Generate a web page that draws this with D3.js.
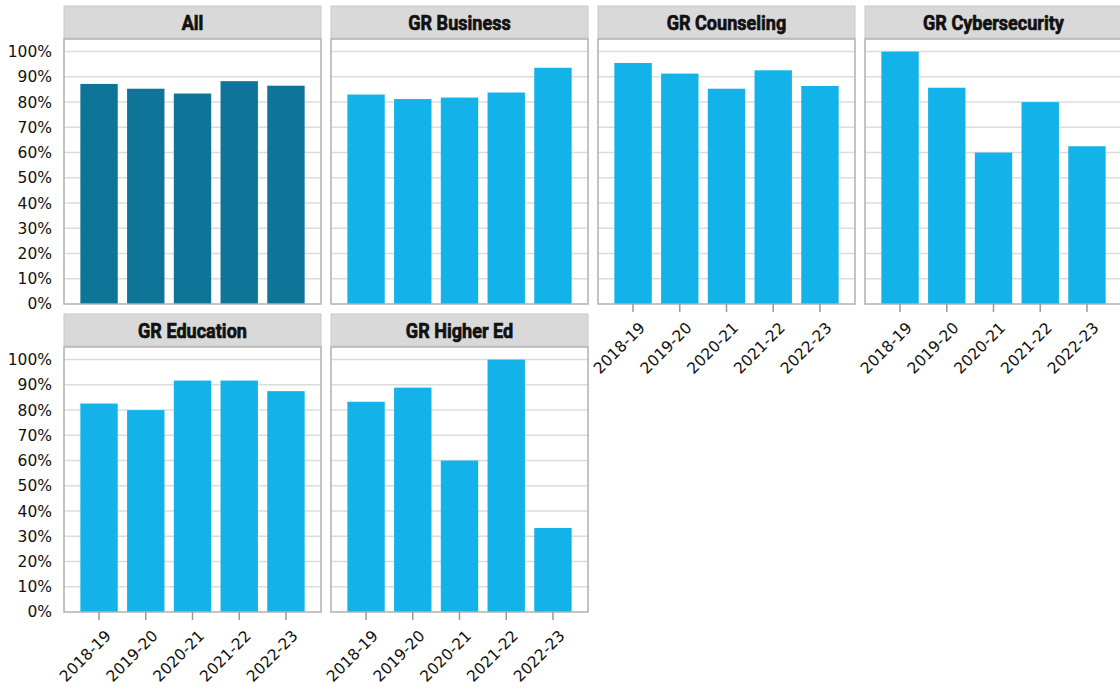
<!DOCTYPE html>
<html>
<head>
<meta charset="utf-8">
<script src="https://cdn.jsdelivr.net/npm/d3@7"></script>
<style>
  body { margin: 0; background: #fff; }
  svg text { fill: #111; }
</style>
</head>
<body>
<div class="chart_box"></div>
<script>
// data
var years = ["2018-19", "2019-20", "2020-21", "2021-22", "2022-23"];
var panels = ["All", "GR Business", "GR Counseling", "GR Cybersecurity", "GR Education", "GR Higher Ed"];
var allRates = [0.872, 0.853, 0.834, 0.883, 0.865];
var businessRates = [0.830, 0.812, 0.818, 0.838, 0.936];
var counselingRates = [0.955, 0.913, 0.853, 0.926, 0.864];
var cyberRates = [1.0, 0.857, 0.60, 0.80, 0.625];
var educationRates = [0.826, 0.80, 0.917, 0.917, 0.875];
var higherEdRates = [0.833, 0.889, 0.60, 1.0, 0.333];
var yTicks = [0, 0.1, 0.2, 0.3, 0.4, 0.5, 0.6, 0.7, 0.8, 0.9, 1.0];

var series = [allRates, businessRates, counselingRates, cyberRates, educationRates, higherEdRates];

var width = 1120, height = 696;
var colLeft = 64, colStep = 267, panelW = 257;
var rowTop = [6, 314];
var headH = 32, plotH = 265;
var tickFont = "'DejaVu Sans', sans-serif";

var svg = d3.select(".chart_box").append("svg")
  .attr("width", width)
  .attr("height", height);

var x = d3.scaleBand()
  .domain(years)
  .range([0, panelW])
  .paddingInner(0.2)
  .paddingOuter(0.35);

var y = d3.scaleLinear()
  .domain([0, 1.05])
  .range([plotH, 0]);

var fmt = d3.format(".0%");

panels.forEach(function(name, i) {
  var col = i % 4, row = Math.floor(i / 4);
  var px = colLeft + col * colStep;
  var hy = rowTop[row];
  var py = hy + headH + 1;

  // header strip
  svg.append("rect")
    .attr("x", px).attr("y", hy)
    .attr("width", panelW).attr("height", headH)
    .attr("fill", "#d9d9d9")
    .attr("stroke", "#c8c8c8");
  // squeezed heavy title, like a condensed face
  svg.append("text")
    .attr("transform", "translate(" + (px + panelW / 2) + "," + (hy + headH / 2) + ") scale(0.86,1)")
    .attr("dy", "0.36em")
    .attr("text-anchor", "middle")
    .attr("font-family", "Roboto, 'Liberation Sans', sans-serif")
    .attr("font-weight", "bold")
    .attr("font-size", "21px")
    .attr("stroke", "#111")
    .attr("stroke-width", 0.7)
    .text(name);

  var g = svg.append("g").attr("transform", "translate(" + px + "," + py + ")");

  // gridlines
  g.selectAll(".grid")
    .data(yTicks.slice(1))
    .enter().append("line")
    .attr("x1", 0).attr("x2", panelW)
    .attr("y1", function(d) { return y(d); })
    .attr("y2", function(d) { return y(d); })
    .attr("stroke", "#dcdcdc")
    .attr("stroke-width", 1.5);

  g.selectAll(".bar")
    .data(series[i])
    .enter().append("rect")
    .attr("x", function(d, j) { return x(years[j]); })
    .attr("width", x.bandwidth())
    .attr("y", function(d) { return y(d); })
    .attr("height", function(d) { return plotH - y(d); })
    .attr("fill", i === 0 ? "#0e7599" : "#13b3e9");

  // frame
  g.append("rect")
    .attr("width", panelW).attr("height", plotH)
    .attr("fill", "none")
    .attr("stroke", "#b0b0b0")
    .attr("stroke-width", 1.5);

  if (col === 0) {
    var ya = g.append("g")
      .call(d3.axisLeft(y).tickValues(yTicks).tickFormat(fmt).tickSize(0).tickPadding(12));
    ya.select(".domain").remove();
    ya.selectAll("text")
      .attr("font-family", tickFont)
      .attr("font-size", "15.5px")
      .attr("fill", "#111");
  }

  // bottom labels only where no panel sits underneath
  var showX = (row === 1) || (col >= 2);
  if (showX) {
    var xa = g.append("g")
      .attr("transform", "translate(0," + plotH + ")")
      .call(d3.axisBottom(x).tickSize(8).tickSizeOuter(0));
    xa.select(".domain").remove();
    xa.selectAll("line").attr("stroke", "#999").attr("stroke-width", 1.5);
    xa.selectAll("text")
      .attr("font-family", tickFont)
      .attr("font-size", "15.5px")
      .attr("fill", "#111")
      .attr("text-anchor", "end")
      .attr("x", 0).attr("y", 0)
      .attr("dy", "0.35em")
      .attr("transform", "translate(9,21) rotate(-45)");
  }
});
</script>
</body>
</html>
